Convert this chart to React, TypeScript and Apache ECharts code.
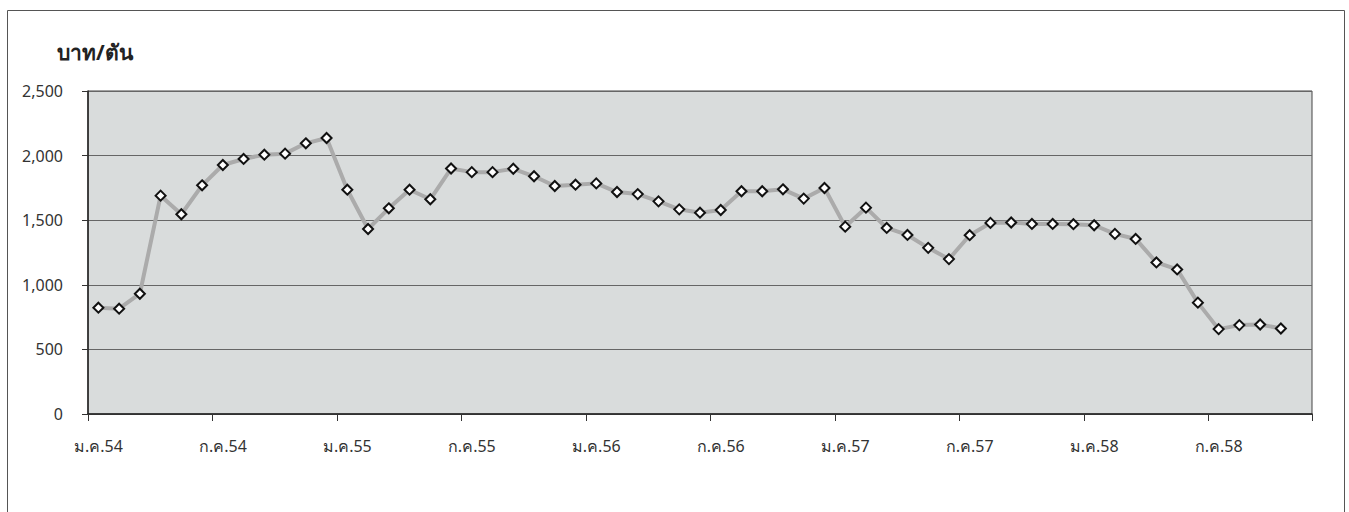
import React, { useEffect, useRef } from "react";
import * as echarts from "echarts";

const monthNames = ["ม.ค.", "ก.พ.", "มี.ค.", "เม.ย.", "พ.ค.", "มิ.ย.", "ก.ค.", "ส.ค.", "ก.ย.", "ต.ค.", "พ.ย.", "ธ.ค."];
const years = ["54", "55", "56", "57", "58"];
const categoryCount = 59;
const categories: string[] = [];
for (const y of years) for (const m of monthNames) categories.push(m + y);
const xCategories = categories.slice(0, categoryCount);

const prices: (number | null)[] = [
  823, 815, 931, 1690, 1546, 1770, 1927, 1974, 2007, 2015, 2095, 2136,
  1736, 1432, 1592, 1736, 1662, 1900, 1872, 1872, 1898, 1840, 1765, 1775,
  1785, 1718, 1702, 1646, 1584, 1558, 1579, 1724, 1724, 1739, 1667, 1749,
  1450, 1597, 1440, 1386, 1286, 1199, 1384, 1479, 1482, 1471, 1471, 1469,
  1461, 1394, 1355, 1173, 1119, 862, 657, 688, 693, 662, null,
];

const yTicks = { min: 0, max: 2500, interval: 500 };
const unitLabel = "บาท/ตัน";

const FONT = "Tahoma, 'Noto Sans', 'DejaVu Sans', sans-serif";

export default function App() {
  const ref = useRef<HTMLDivElement>(null);
  useEffect(() => {
    if (!ref.current) return;
    const chart = echarts.init(ref.current, undefined, { renderer: "svg" });
    chart.setOption({
      animation: false,
      backgroundColor: "#ffffff",
      textStyle: { fontFamily: FONT },
      graphic: [
        {
          type: "rect",
          shape: { x: 7.5, y: 10.5, width: 1337, height: 520 },
          style: { fill: "none", stroke: "#555", lineWidth: 1 },
          silent: true,
        },
        {
          type: "text",
          left: 57,
          top: 41,
          style: { text: unitLabel, fontSize: 21, fontWeight: "bold", fill: "#222", fontFamily: FONT },
        },
      ],
      grid: {
        left: 88,
        top: 91,
        right: 37,
        bottom: 98,
        show: true,
        backgroundColor: "#d9dcdc",
        borderColor: "#444",
        borderWidth: 1,
        containLabel: false,
      },
      xAxis: {
        type: "category",
        data: xCategories,
        boundaryGap: true,
        axisLine: { lineStyle: { color: "#222", width: 1.5 } },
        axisTick: { show: true, interval: 5, length: 7, lineStyle: { color: "#333" } },
        axisLabel: { interval: 5, color: "#333", fontSize: 16, margin: 24, fontFamily: FONT },
        splitLine: { show: false },
      },
      yAxis: {
        type: "value",
        min: yTicks.min,
        max: yTicks.max,
        interval: yTicks.interval,
        axisLine: { show: true, lineStyle: { color: "#222", width: 1.5 } },
        axisTick: { show: true, length: 6, lineStyle: { color: "#333" } },
        axisLabel: {
          color: "#333",
          fontSize: 16,
          margin: 25,
          fontFamily: FONT,
          formatter: (v: number) => v.toLocaleString("en-US"),
        },
        splitLine: { show: true, lineStyle: { color: "#666", width: 1 } },
      },
      series: [
        {
          type: "line",
          data: prices,
          symbol: "diamond",
          symbolSize: 10,
          showAllSymbol: true,
          lineStyle: { color: "#ababab", width: 4 },
          itemStyle: { color: "#ffffff", borderColor: "#111", borderWidth: 2 },
          connectNulls: false,
        },
      ],
    });
    return () => chart.dispose();
  }, []);
  return (
    <div
      ref={ref}
      style={{ position: "absolute", left: 0, top: 0, width: 1349, height: 512 }}
    />
  );
}
